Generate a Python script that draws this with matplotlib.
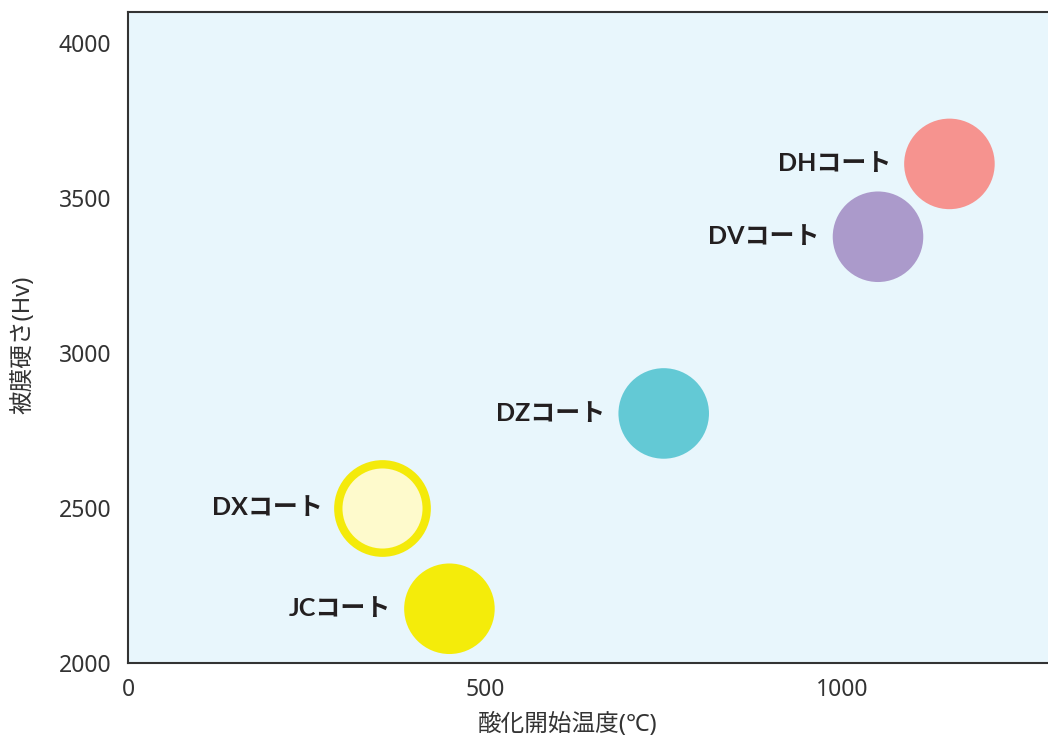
import matplotlib.pyplot as plt

fonts = ['Noto Sans', 'Noto Sans CJK JP', 'DejaVu Sans']
label_fonts = ['Lato', 'Noto Sans CJK JP', 'DejaVu Sans']
plt.rcParams['font.family'] = fonts

# coating data
names = ['DHコート', 'DVコート', 'DZコート', 'DXコート', 'JCコート']
temps = [1150, 1050, 750, 355, 450]
hardness = [3610, 3375, 2805, 2500, 2175]
face_colors = ['#F6938F', '#AB9ACB', '#63C9D5', '#FEFACC', '#F4EC0A']
edge_colors = ['none', 'none', 'none', '#F4EA0A', 'none']

fig = plt.figure(figsize=(10.48, 7.40), dpi=100)
ax = fig.add_axes([128 / 1048, 77 / 740, 920 / 1048, 651 / 740])
ax.set_facecolor('#E8F6FC')

for name, t, h, fc, ec in zip(names, temps, hardness, face_colors, edge_colors):
    if ec != 'none':
        ax.scatter(t, h, s=4050, c=fc, edgecolors=ec, linewidths=6, zorder=3)
    else:
        ax.scatter(t, h, s=4250, c=fc, edgecolors='none', zorder=3)
    ax.annotate(name, (t, h), xytext=(-42, 0), textcoords='offset points',
                ha='right', va='center', fontsize=18, color='#231F20',
                fontweight='bold', family=label_fonts)

ax.set_xlim(0, 1288)
ax.set_ylim(2000, 4100)
ax.set_xticks([0, 500, 1000])
ax.set_yticks([2000, 2500, 3000, 3500, 4000])
ax.tick_params(length=0, labelsize=16.5, colors='#333333')
ax.tick_params(axis='y', pad=12)
ax.tick_params(axis='x', pad=11)

for side in ['left', 'top', 'bottom']:
    ax.spines[side].set_color('#333333')
    ax.spines[side].set_linewidth(1.5)
ax.spines['right'].set_visible(False)

fig.text(568 / 1048, 1 - 725 / 740, '酸化開始温度(℃)', fontsize=17,
         color='#333333', ha='center', va='center')
fig.text(23 / 1048, 1 - 345 / 740, '被膜硬さ(Hv)', fontsize=17,
         color='#333333', ha='center', va='center', rotation=90)

fig.savefig('out.png', dpi=100)
